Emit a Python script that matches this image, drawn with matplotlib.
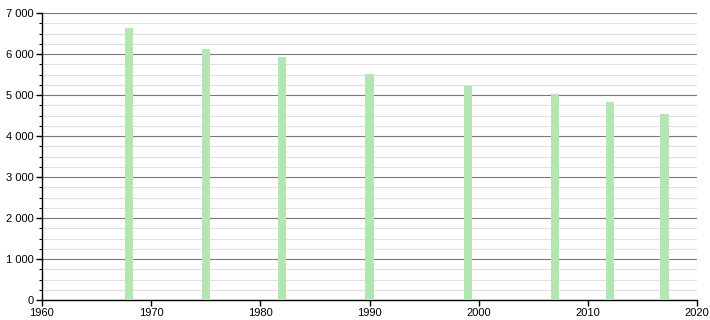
import matplotlib
matplotlib.use("Agg")
import matplotlib.pyplot as plt
from matplotlib.ticker import FuncFormatter, MultipleLocator

# --- Data ---
years = [1968, 1975, 1982, 1990, 1999, 2007, 2012, 2017]
population = [6630, 6120, 5925, 5510, 5220, 5025, 4830, 4535]

plt.rcParams['font.family'] = ['Liberation Sans', 'DejaVu Sans']

fig = plt.figure(figsize=(7.1, 3.2), dpi=100)
ax = fig.add_axes([0.059, 0.0625, 0.923, 0.8965])

# --- Grid ---
ax.yaxis.set_major_locator(MultipleLocator(1000))
ax.yaxis.set_minor_locator(MultipleLocator(250))
ax.grid(axis='y', which='minor', color='#e0e0e0', linewidth=0.8)
ax.grid(axis='y', which='major', color='#7a7a7a', linewidth=0.8)
ax.set_axisbelow(True)

# --- Bars ---
ax.bar(years, population, width=0.75, color='#b3e6b3', zorder=3)

ax.set_xlim(1960, 2020)
ax.set_ylim(0, 7000)
ax.set_xticks(range(1960, 2021, 10))

ax.yaxis.set_major_formatter(FuncFormatter(lambda v, p: f"{int(v):,}".replace(",", " ")))

for side in ['top', 'right']:
    ax.spines[side].set_visible(False)
for side in ['left', 'bottom']:
    ax.spines[side].set_color('black')
    ax.spines[side].set_linewidth(1)

ax.tick_params(axis='both', which='major', labelsize=8, length=4, width=1, color='black')
ax.tick_params(axis='y', which='minor', length=2, width=0.8, color='black')
ax.tick_params(axis='x', pad=2)
ax.tick_params(axis='y', pad=2)

fig.savefig("out.png", dpi=100)
